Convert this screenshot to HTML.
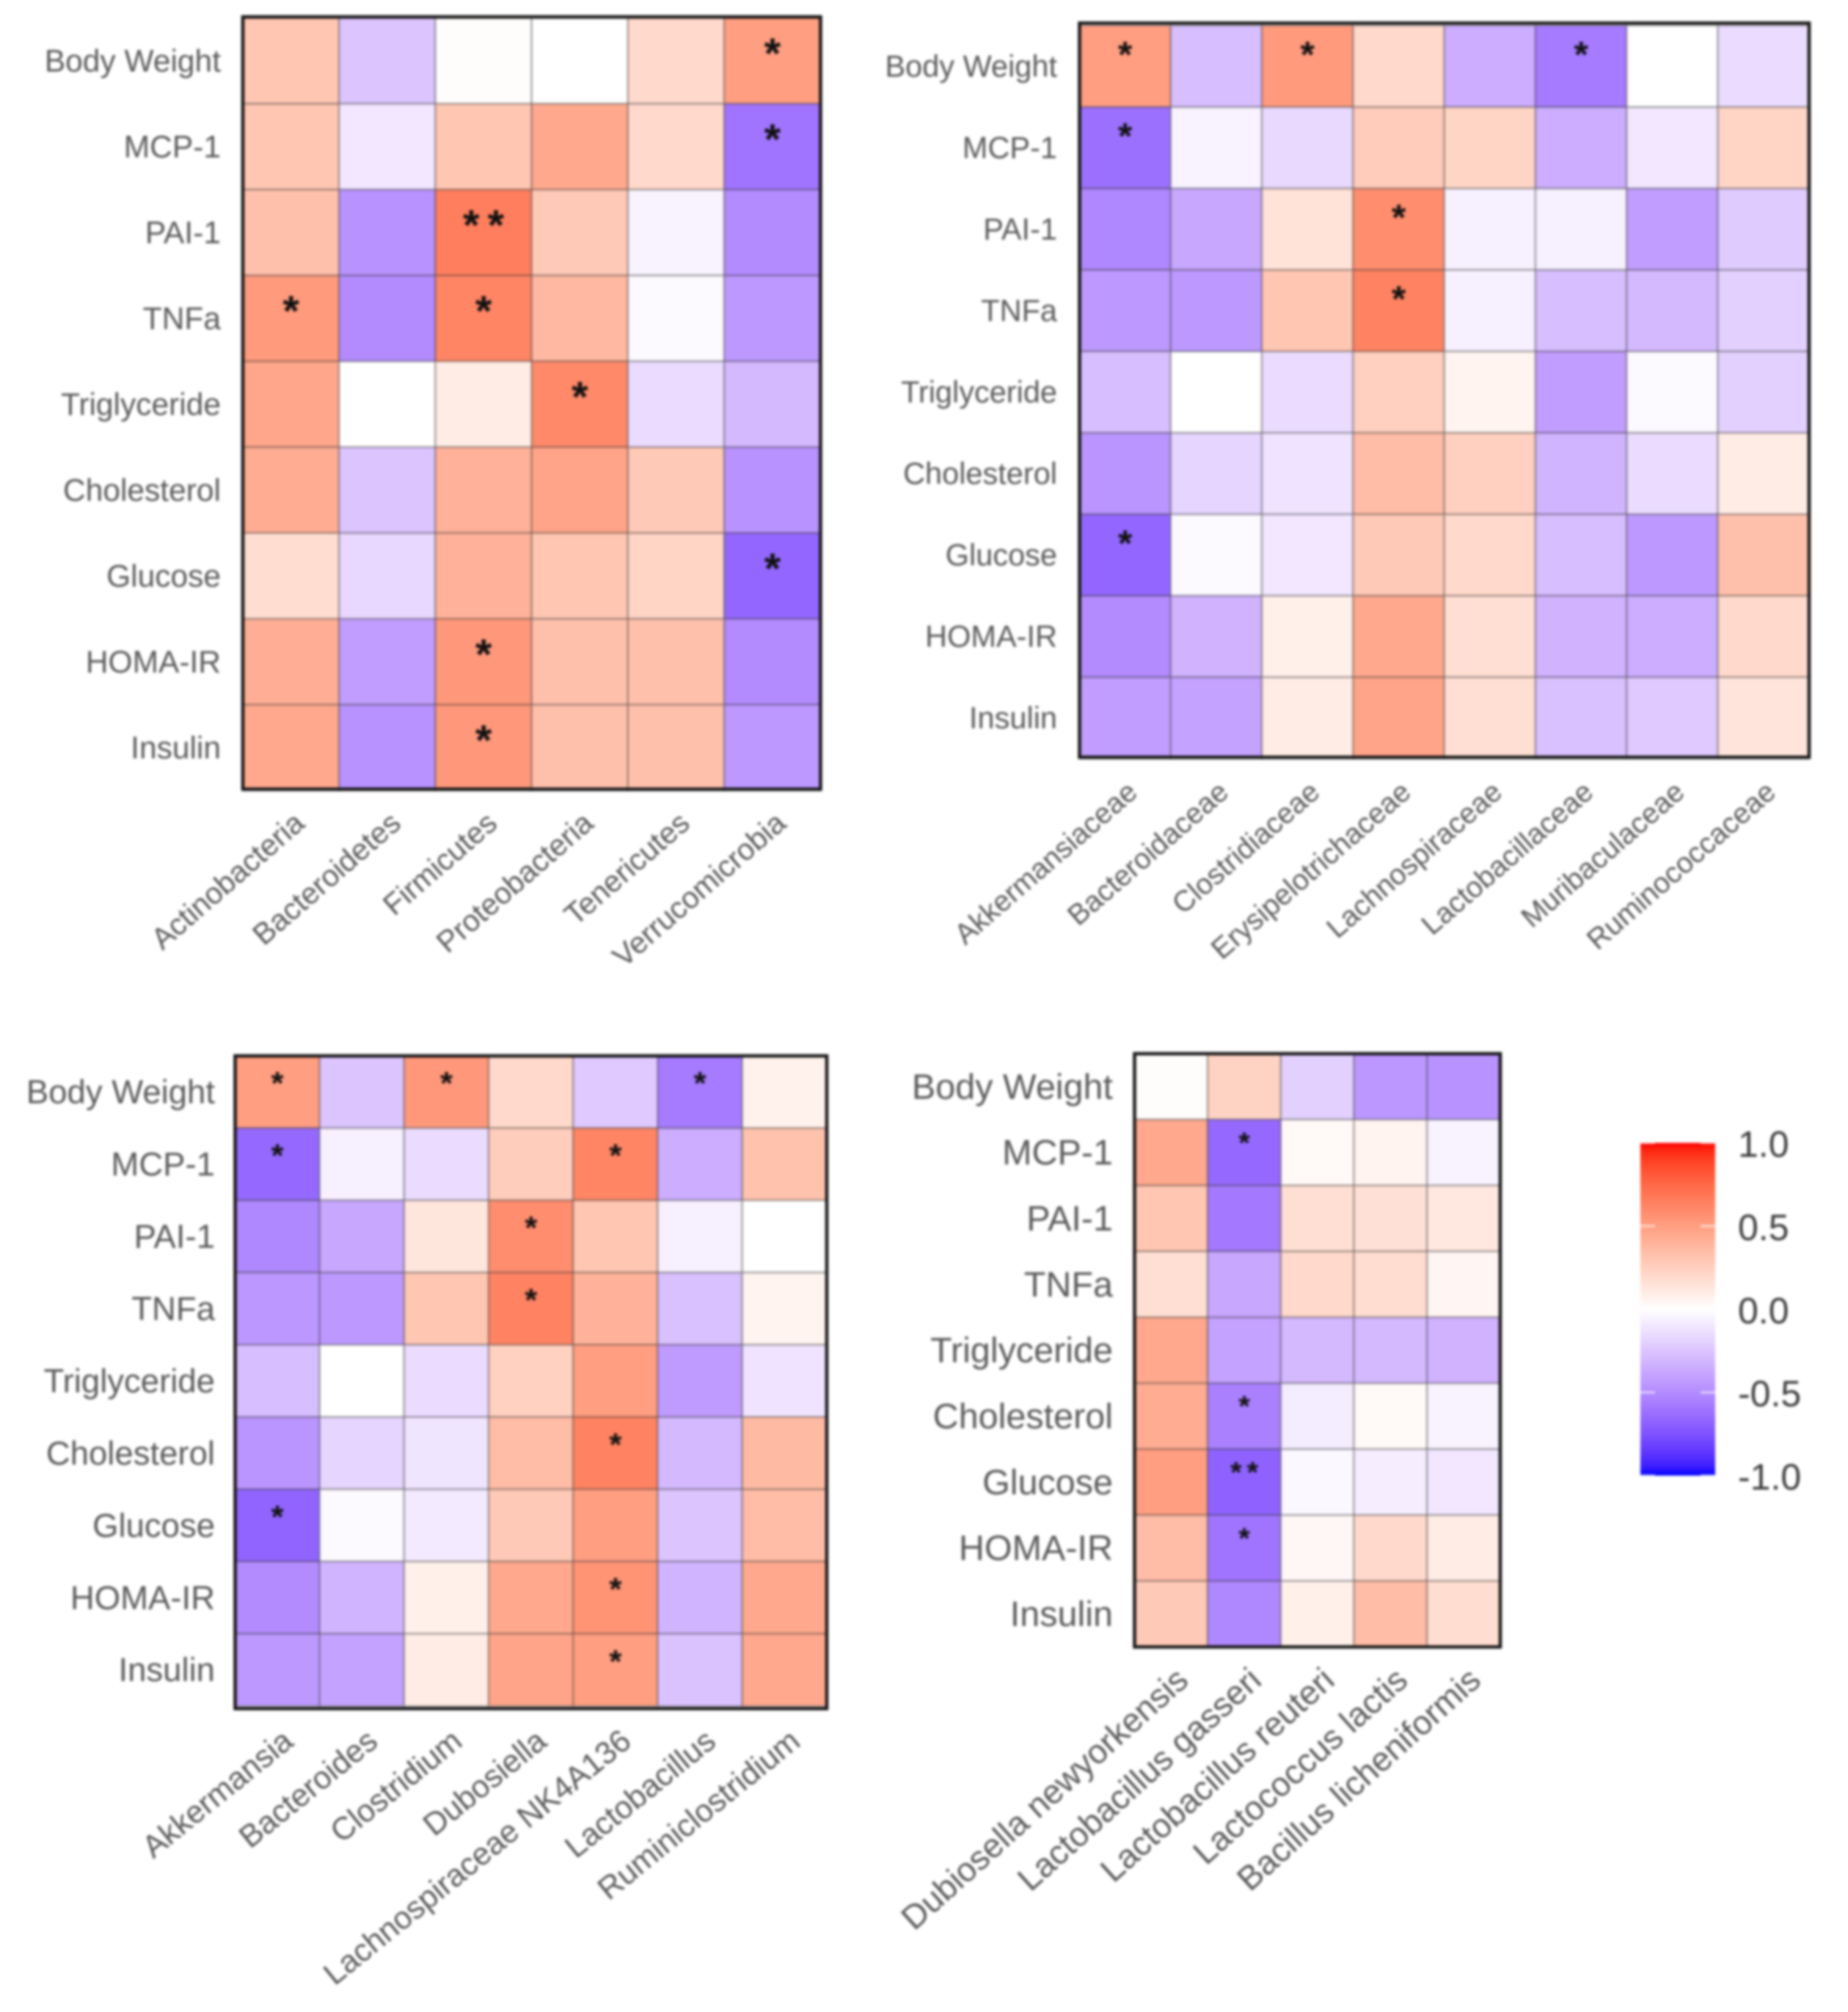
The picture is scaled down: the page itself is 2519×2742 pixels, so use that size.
<!DOCTYPE html>
<html lang="en">
<head>
<meta charset="utf-8">
<title>Correlation heatmaps</title>
<style>
html,body{margin:0;padding:0;background:#fff;}
#chart{display:block;width:2519px;height:2742px;filter:blur(1.8px);}
text{font-family:"Liberation Sans",Arial,sans-serif;}
</style>
</head>
<body>
<svg id="chart" xmlns="http://www.w3.org/2000/svg" width="2519" height="2742" viewBox="0 0 2519 2742"></svg>
<script>
// ---------- Data ----------
const rowLabels = ["Body Weight","MCP-1","PAI-1","TNFa","Triglyceride","Cholesterol","Glucose","HOMA-IR","Insulin"];

const phylaLabels = ["Actinobacteria","Bacteroidetes","Firmicutes","Proteobacteria","Tenericutes","Verrucomicrobia"];
const phylaValues = [
  [ .30,-.25, .01, .00, .20, .50],
  [ .30,-.10, .30, .45, .20,-.60],
  [ .33,-.47, .65, .28,-.05,-.50],
  [ .52,-.50, .62, .37,-.02,-.44],
  [ .46, .00, .10, .60,-.15,-.30],
  [ .43,-.25, .40, .47, .28,-.47],
  [ .18,-.17, .40, .30, .22,-.66],
  [ .42,-.42, .53, .33, .33,-.50],
  [ .45,-.47, .53, .33, .33,-.44]
];
const phylaStars = [[0,5,"*"],[1,5,"*"],[2,2,"**"],[3,0,"*"],[3,2,"*"],[4,3,"*"],[6,5,"*"],[7,2,"*"],[8,2,"*"]];

const familyLabels = ["Akkermansiaceae","Bacteroidaceae","Clostridiaceae","Erysipelotrichaceae","Lachnospiraceae","Lactobacillaceae","Muribaculaceae","Ruminococcaceae"];
const familyValues = [
  [ .50,-.28, .52, .20,-.35,-.57, .00,-.15],
  [-.62,-.05,-.16, .27, .22,-.35,-.10, .22],
  [-.52,-.38, .15, .58,-.06,-.06,-.42,-.22],
  [-.44,-.44, .30, .63,-.06,-.28,-.30,-.20],
  [-.28, .00,-.15, .25, .06,-.42,-.02,-.20],
  [-.46,-.18,-.12, .35, .25,-.32,-.15, .10],
  [-.66,-.02,-.10, .28, .20,-.28,-.44, .33],
  [-.50,-.33, .08, .45, .17,-.33,-.35, .20],
  [-.42,-.40, .10, .47, .17,-.27,-.23, .14]
];
const familyStars = [[0,0,"*"],[0,2,"*"],[0,5,"*"],[1,0,"*"],[2,3,"*"],[3,3,"*"],[6,0,"*"]];

const genusLabels = ["Akkermansia","Bacteroides","Clostridium","Dubosiella","Lachnospiraceae NK4A136","Lactobacillus","Ruminiclostridium"];
const genusValues = [
  [ .50,-.25, .53, .20,-.23,-.57, .07],
  [-.65,-.06,-.15, .26, .62,-.35, .32],
  [-.52,-.38, .13, .58, .30,-.06, .00],
  [-.45,-.44, .30, .63, .40,-.27, .06],
  [-.28, .00,-.15, .24, .50,-.43,-.12],
  [-.46,-.18,-.11, .35, .63,-.30, .36],
  [-.67,-.02,-.09, .28, .50,-.25, .35],
  [-.50,-.32, .08, .45, .55,-.32, .45],
  [-.44,-.40, .10, .47, .50,-.26, .45]
];
const genusStars = [[0,0,"*"],[0,2,"*"],[0,5,"*"],[1,0,"*"],[1,4,"*"],[2,3,"*"],[3,3,"*"],[5,4,"*"],[6,0,"*"],[7,4,"*"],[8,4,"*"]];

const speciesLabels = ["Dubiosella newyorkensis","Lactobacillus gasseri","Lactobacillus reuteri","Lactococcus lactis","Bacillus licheniformis"];
const speciesValues = [
  [ .01, .23,-.20,-.45,-.47],
  [ .45,-.65, .03, .06,-.05],
  [ .30,-.58, .17, .16, .12],
  [ .17,-.38, .20, .18, .05],
  [ .45,-.40,-.30,-.30,-.33],
  [ .43,-.55,-.08, .03,-.05],
  [ .50,-.68,-.03,-.07,-.10],
  [ .35,-.60, .04, .20, .10],
  [ .28,-.52, .08, .35, .18]
];
const speciesStars = [[1,1,"*"],[5,1,"*"],[6,1,"**"],[7,1,"*"]];

const legendTicks = [1, 0.5, 0, -0.5, -1];
const legendTickLabels = ["1.0","0.5","0.0","-0.5","-1.0"];

// ---------- Colour scale (Lab interpolation white -> red / blue) ----------
const WHITE_LAB = [100, 0, 0];
const RED_LAB = [53.24, 80.09, 67.2];
const BLUE_LAB = [32.3, 79.19, -107.86];

function labToHex(L, a, b) {
  const fy = (L + 16) / 116, fx = a / 500 + fy, fz = fy - b / 200;
  const inv = function (t) { return t > 6 / 29 ? t * t * t : 3 * (6 / 29) * (6 / 29) * (t - 4 / 29); };
  const X = 0.95047 * inv(fx), Y = inv(fy), Z = 1.08883 * inv(fz);
  const lin = [
    3.2406 * X - 1.5372 * Y - 0.4986 * Z,
    -0.9689 * X + 1.8758 * Y + 0.0415 * Z,
    0.0557 * X - 0.2040 * Y + 1.0570 * Z
  ];
  return "#" + lin.map(function (c) {
    c = Math.max(0, Math.min(1, c));
    const s = c <= 0.0031308 ? 12.92 * c : 1.055 * Math.pow(c, 1 / 2.4) - 0.055;
    return Math.round(s * 255).toString(16).padStart(2, "0");
  }).join("");
}
function colorScale(v) {
  const t = Math.min(1, Math.abs(v));
  const end = v >= 0 ? RED_LAB : BLUE_LAB;
  return labToHex(
    WHITE_LAB[0] + (end[0] - WHITE_LAB[0]) * t,
    WHITE_LAB[1] + (end[1] - WHITE_LAB[1]) * t,
    WHITE_LAB[2] + (end[2] - WHITE_LAB[2]) * t
  );
}

// ---------- Drawing ----------
const SVG_NS = "http://www.w3.org/2000/svg";
const svg = document.getElementById("chart");

function make(tag, parent) {
  const el = document.createElementNS(SVG_NS, tag);
  parent.appendChild(el);
  return el;
}

function drawHeatmap(name, box, style, columns, values, stars) {
  const g = make("g", svg);
  
  

  const colW = (box.right - box.left) / columns.length;
  const rowH = (box.bottom - box.top) / rowLabels.length;
  const xAxis = function (c) { return box.left + c * colW; };
  const yAxis = function (r) { return box.top + r * rowH; };

  values.forEach(function (row, r) {
    row.forEach(function (v, c) {
      const cell = make("rect", g);
      cell.setAttribute("x", xAxis(c));
      cell.setAttribute("y", yAxis(r));
      cell.setAttribute("width", colW);
      cell.setAttribute("height", rowH);
      cell.setAttribute("fill", colorScale(v));
      cell.setAttribute("stroke", "rgba(50,50,50,0.32)");
      cell.setAttribute("stroke-width", "2.5");
      
      
    });
  });

  stars.forEach(function (s) {
    const t = make("text", g);
    t.textContent = s[2];
    t.setAttribute("x", xAxis(s[1]) + colW / 2 + style.starSpacing / 2);
    t.setAttribute("y", yAxis(s[0]) + rowH / 2 + style.starOffset);
    t.setAttribute("text-anchor", "middle");
    t.setAttribute("font-size", style.starSize);
    t.setAttribute("font-weight", "bold");
    t.setAttribute("letter-spacing", style.starSpacing);
    t.setAttribute("fill", "#111");
    
    
  });

  const frame = make("rect", g);
  frame.setAttribute("x", box.left);
  frame.setAttribute("y", box.frameTop);
  frame.setAttribute("width", box.right - box.left);
  frame.setAttribute("height", box.frameBottom - box.frameTop);
  frame.setAttribute("fill", "none");
  frame.setAttribute("stroke", "#161616");
  frame.setAttribute("stroke-width", "4.5");
  
  

  rowLabels.forEach(function (label, r) {
    const t = make("text", g);
    t.textContent = label;
    t.setAttribute("x", box.labelRight);
    t.setAttribute("y", yAxis(r) + rowH / 2 + style.fontSize * 0.34);
    t.setAttribute("text-anchor", "end");
    t.setAttribute("font-size", style.fontSize);
    t.setAttribute("fill", "#5a5a5a");
    
    
  });

  columns.forEach(function (label, c) {
    const px = xAxis(c) + colW / 2 + style.xDx;
    const py = box.frameBottom + style.xDy;
    const t = make("text", g);
    t.textContent = label;
    t.setAttribute("transform", "translate(" + px + "," + py + ") rotate(" + style.angle + ")");
    t.setAttribute("text-anchor", "end");
    t.setAttribute("font-size", style.xFontSize);
    t.setAttribute("fill", "#5a5a5a");
    
    
  });
}

drawHeatmap("phylum", {left:331, right:1118.5, top:24.5, bottom:1077.5, frameTop:23, frameBottom:1075.5, labelRight:301},
  {fontSize:42.5, xFontSize:41, angle:-41, xDx:21, xDy:50, starSize:58, starOffset:10, starSpacing:11}, phylaLabels, phylaValues, phylaStars);
drawHeatmap("family", {left:1471.5, right:2466, top:35, bottom:1034, frameTop:31.5, frameBottom:1032, labelRight:1441},
  {fontSize:41.5, xFontSize:39.5, angle:-41, xDx:19, xDy:51, starSize:50, starOffset:1, starSpacing:8}, familyLabels, familyValues, familyStars);
drawHeatmap("genus", {left:320.5, right:1127, top:1439, bottom:2325, frameTop:1439, frameBottom:2328.5, labelRight:293},
  {fontSize:45.5, xFontSize:43, angle:-39, xDx:24, xDy:49, starSize:44, starOffset:3, starSpacing:6}, genusLabels, genusValues, genusStars);
drawHeatmap("species", {left:1546.5, right:2045, top:1436, bottom:2244.5, frameTop:1436, frameBottom:2244.5, labelRight:1517},
  {fontSize:48.5, xFontSize:46, angle:-42, xDx:26, xDy:49, starSize:40, starOffset:0, starSpacing:7}, speciesLabels, speciesValues, speciesStars);

// ---------- Legend ----------
const legendBox = {left:2236, right:2338, top:1557.5, bottom:2011};
const legendY = function (v) { return legendBox.top + (1 - v) / 2 * (legendBox.bottom - legendBox.top); };

const defs = make("defs", svg);
const grad = make("linearGradient", defs);
grad.setAttribute("id", "legend-gradient");
grad.setAttribute("x1", "0");
grad.setAttribute("y1", "0");
grad.setAttribute("x2", "0");
grad.setAttribute("y2", "1");
for (let i = 0; i <= 40; i++) {
  const stop = make("stop", grad);
  stop.setAttribute("offset", i / 40);
  stop.setAttribute("stop-color", colorScale(1 - i / 20));
}

const legendGroup = make("g", svg);



const bar = make("rect", legendGroup);
bar.setAttribute("x", legendBox.left);
bar.setAttribute("y", legendBox.top);
bar.setAttribute("width", legendBox.right - legendBox.left);
bar.setAttribute("height", legendBox.bottom - legendBox.top);
bar.setAttribute("fill", "url(#legend-gradient)");



legendTicks.forEach(function (v, i) {
  const y = legendY(v);
  [[legendBox.left, legendBox.left + 20], [legendBox.right - 20, legendBox.right]].forEach(function (seg) {
    const tick = make("line", legendGroup);
    tick.setAttribute("x1", seg[0]);
    tick.setAttribute("x2", seg[1]);
    tick.setAttribute("y1", y);
    tick.setAttribute("y2", y);
    tick.setAttribute("stroke", "rgba(255,255,255,0.6)");
    tick.setAttribute("stroke-width", "3");
    
    
  });
  const t = make("text", legendGroup);
  t.textContent = legendTickLabels[i];
  t.setAttribute("x", 2369);
  t.setAttribute("y", y + 19);
  t.setAttribute("font-size", 50);
  t.setAttribute("fill", "#3c3c3c");
  
  
});
</script>
</body>
</html>
